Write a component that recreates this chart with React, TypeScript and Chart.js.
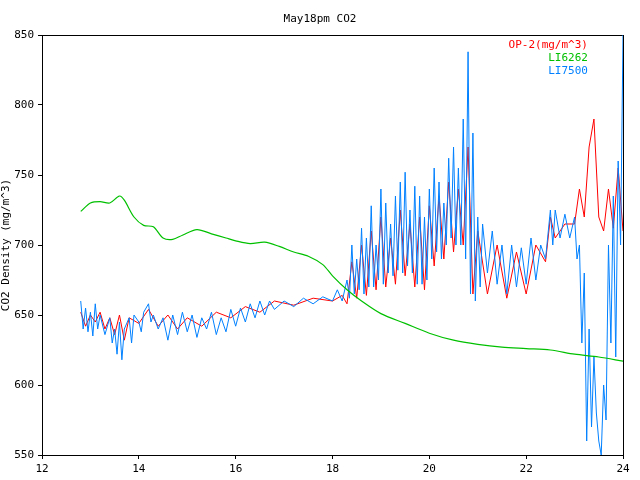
import { Chart, registerables } from "chart.js";
import { useEffect, useRef } from "react";

Chart.register(...registerables);

const greenX = [12.8, 13.0, 13.2, 13.4, 13.6, 13.7, 13.9, 14.1, 14.3, 14.5, 14.7, 14.9, 15.2, 15.5, 15.8, 16.0, 16.3, 16.6, 16.9, 17.2, 17.5, 17.8, 18.0, 18.3, 18.6, 19.0, 19.5, 20.0, 20.5, 21.0, 21.5, 22.0, 22.5, 23.0, 23.5, 24.0];
const greenY = [724, 730, 731, 730, 735, 732, 720, 714, 713, 705, 704, 707, 711, 708, 705, 703, 701, 702, 699, 695, 692, 686, 678, 668, 660, 651, 644, 637, 632, 629, 627, 626, 625, 622, 620, 617];

const blueX = [12.8, 12.85, 12.9, 12.95, 13.0, 13.05, 13.1, 13.15, 13.2, 13.3, 13.4, 13.45, 13.5, 13.55, 13.6, 13.65, 13.7, 13.8, 13.85, 13.9, 14.0, 14.05, 14.1, 14.2, 14.25, 14.3, 14.4, 14.5, 14.6, 14.7, 14.8, 14.9, 15.0, 15.1, 15.2, 15.3, 15.4, 15.5, 15.6, 15.7, 15.8, 15.9, 16.0, 16.1, 16.2, 16.3, 16.4, 16.5, 16.6, 16.7, 16.8, 17.0, 17.2, 17.4, 17.6, 17.8, 18.0, 18.1, 18.2, 18.3, 18.35, 18.4, 18.45, 18.5, 18.55, 18.6, 18.65, 18.7, 18.75, 18.8, 18.85, 18.9, 18.95, 19.0, 19.05, 19.1, 19.15, 19.2, 19.25, 19.3, 19.35, 19.4, 19.45, 19.5, 19.55, 19.6, 19.65, 19.7, 19.75, 19.8, 19.85, 19.9, 19.95, 20.0, 20.05, 20.1, 20.15, 20.2, 20.25, 20.3, 20.35, 20.4, 20.45, 20.5, 20.55, 20.6, 20.65, 20.7, 20.75, 20.8, 20.85, 20.9, 20.95, 21.0, 21.05, 21.1, 21.2, 21.3, 21.4, 21.5, 21.6, 21.7, 21.8, 21.9, 22.0, 22.1, 22.2, 22.3, 22.4, 22.5, 22.55, 22.6, 22.7, 22.8, 22.9, 23.0, 23.05, 23.1, 23.15, 23.2, 23.25, 23.3, 23.35, 23.4, 23.45, 23.5, 23.55, 23.6, 23.65, 23.7, 23.75, 23.8, 23.85, 23.9, 23.95, 24.0];
const blueY = [660, 640, 655, 638, 652, 635, 658, 640, 650, 636, 648, 630, 640, 622, 645, 618, 640, 648, 630, 650, 645, 638, 652, 658, 645, 650, 640, 648, 632, 650, 636, 652, 638, 650, 634, 648, 640, 652, 636, 648, 638, 654, 642, 655, 645, 658, 648, 660, 650, 660, 654, 660, 656, 662, 658, 663, 660, 668, 660, 675, 662, 700, 665, 690, 668, 712, 665, 705, 670, 728, 670, 700, 675, 740, 672, 730, 680, 715, 678, 735, 682, 745, 680, 752, 685, 725, 680, 742, 672, 735, 672, 720, 675, 740, 690, 755, 695, 745, 690, 730, 700, 762, 705, 770, 700, 755, 700, 790, 690, 838, 665, 780, 660, 720, 670, 715, 680, 710, 672, 700, 665, 700, 670, 698, 672, 705, 675, 700, 690, 725, 700, 725, 705, 722, 705, 720, 690, 700, 630, 680, 560, 640, 570, 620, 580, 560, 550, 600, 575, 700, 630, 735, 620, 760, 700, 850];

const redX = [12.8, 12.9, 13.0, 13.1, 13.2, 13.3, 13.4, 13.5, 13.6, 13.7, 13.8, 14.0, 14.2, 14.4, 14.6, 14.8, 15.0, 15.3, 15.6, 15.9, 16.2, 16.5, 16.8, 17.2, 17.6, 18.0, 18.2, 18.3, 18.4, 18.5, 18.6, 18.7, 18.8, 18.9, 19.0, 19.1, 19.2, 19.3, 19.4, 19.5, 19.6, 19.7, 19.8, 19.9, 20.0, 20.1, 20.2, 20.3, 20.4, 20.5, 20.6, 20.7, 20.8, 20.9, 21.0, 21.2, 21.4, 21.6, 21.8, 22.0, 22.2, 22.4, 22.5, 22.6, 22.8, 23.0, 23.1, 23.2, 23.3, 23.4, 23.5, 23.6, 23.7, 23.8, 23.9, 24.0];
const redY = [652, 642, 650, 645, 652, 640, 648, 636, 650, 632, 648, 644, 654, 642, 650, 640, 648, 642, 652, 648, 656, 652, 660, 657, 662, 660, 664, 658, 688, 662, 700, 664, 710, 668, 720, 670, 705, 672, 725, 678, 715, 670, 720, 668, 728, 685, 735, 690, 745, 695, 740, 700, 770, 665, 710, 665, 700, 662, 695, 665, 700, 688, 720, 705, 715, 715, 740, 720, 770, 790, 720, 710, 740, 712, 755, 710];

const toPts = (xs: number[], ys: number[]) => xs.map((x, i) => ({ x, y: ys[i] }));

const font = { family: "DejaVu Sans Mono", size: 11 };

export default function App() {
  const canvasRef = useRef<HTMLCanvasElement>(null);

  useEffect(() => {
    if (!canvasRef.current) return;
    const chart = new Chart(canvasRef.current, {
      type: "line",
      data: {
        datasets: [
          { label: "OP-2(mg/m^3)", data: toPts(redX, redY), borderColor: "#ff0000", borderWidth: 1, pointRadius: 0, order: 3 },
          { label: "LI6262", data: toPts(greenX, greenY), borderColor: "#00c000", borderWidth: 1.2, pointRadius: 0, tension: 0.3, order: 1 },
          { label: "LI7500", data: toPts(blueX, blueY), borderColor: "#0080ff", borderWidth: 1, pointRadius: 0, order: 2 },
        ],
      },
      options: {
        animation: false,
        responsive: false,
        layout: { padding: { top: 35, right: 17, left: 0, bottom: 0 } },
        plugins: { legend: { display: false }, tooltip: { enabled: false } },
        scales: {
          x: {
            type: "linear",
            min: 12,
            max: 24,
            ticks: { stepSize: 2, color: "#000", font, padding: 4 },
            grid: { drawOnChartArea: false, tickLength: 4, color: "#000" },
            border: { color: "#000" },
            afterFit: (s: any) => { s.height = 25; },
          },
          y: {
            min: 550,
            max: 850,
            ticks: { stepSize: 50, color: "#000", font, padding: 4 },
            grid: { drawOnChartArea: false, tickLength: 4, color: "#000" },
            border: { color: "#000" },
            title: { display: true, text: "CO2 Density (mg/m^3)", color: "#000", font, padding: 0 },
            afterFit: (s: any) => { s.width = 42; },
          },
          x2: { type: "linear", position: "top", min: 12, max: 24, ticks: { display: false }, grid: { drawOnChartArea: false, drawTicks: false }, border: { color: "#000" }, afterFit: (s: any) => { s.height = 0; } },
          y2: { position: "right", min: 550, max: 850, ticks: { display: false }, grid: { drawOnChartArea: false, drawTicks: false }, border: { color: "#000" }, afterFit: (s: any) => { s.width = 0; } },
        },
      },
    });
    return () => chart.destroy();
  }, []);

  const legend = [
    { t: "OP-2(mg/m^3)", c: "#ff0000" },
    { t: "LI6262", c: "#00c000" },
    { t: "LI7500", c: "#0080ff" },
  ];

  return (
    <div style={{ position: "fixed", left: 0, top: 0, width: 640, height: 480, background: "#fff", fontFamily: "DejaVu Sans Mono", fontSize: 11 }}>
      <canvas ref={canvasRef} width={640} height={480} />
      <div style={{ position: "absolute", top: 12, left: 0, width: 640, textAlign: "center" }}>May18pm CO2</div>
      <div style={{ position: "absolute", top: 38, right: 52, textAlign: "right", lineHeight: "13px" }}>
        {legend.map((l) => (
          <div key={l.t} style={{ color: l.c }}>{l.t}</div>
        ))}
      </div>
    </div>
  );
}
